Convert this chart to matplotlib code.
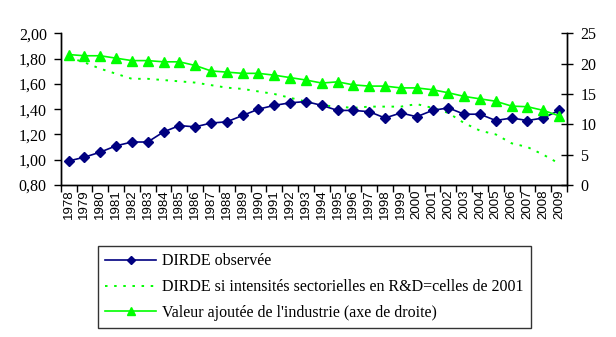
import matplotlib
matplotlib.use("Agg")
import matplotlib.pyplot as plt
from matplotlib import font_manager
import numpy as np

years = [str(y) for y in range(1978, 2010)]

dirde_observee = [0.99, 1.02, 1.06, 1.11, 1.14, 1.14, 1.22, 1.27, 1.26, 1.29,
                  1.30, 1.35, 1.40, 1.43, 1.45, 1.46, 1.43, 1.39, 1.39, 1.38,
                  1.33, 1.37, 1.34, 1.39, 1.41, 1.36, 1.36, 1.31, 1.33, 1.31,
                  1.33, 1.39]

dirde_2001 = [1.81, 1.77, 1.72, 1.68, 1.64, 1.64, 1.63, 1.62, 1.61, 1.59,
              1.57, 1.56, 1.54, 1.52, 1.49, 1.46, 1.43, 1.42, 1.41, 1.42,
              1.42, 1.42, 1.44, 1.41, 1.37, 1.29, 1.23, 1.20, 1.13, 1.10,
              1.04, 0.97]

valeur_ajoutee = [21.5, 21.3, 21.3, 20.9, 20.5, 20.5, 20.3, 20.3, 19.7, 18.8,
                  18.6, 18.4, 18.4, 18.1, 17.7, 17.3, 16.8, 17.0, 16.5, 16.3,
                  16.3, 16.0, 16.0, 15.7, 15.2, 14.6, 14.2, 13.8, 13.0, 12.9,
                  12.3, 11.4]

left_ticks = [0.80, 1.00, 1.20, 1.40, 1.60, 1.80, 2.00]
right_ticks = [0, 5, 10, 15, 20, 25]

labels = ["DIRDE observée",
          "DIRDE si intensités sectorielles en R&D=celles de 2001",
          "Valeur ajoutée de l'industrie (axe de droite)"]

serif = "Liberation Serif"
avail = {f.name for f in font_manager.fontManager.ttflist}
narrow = "Liberation Sans Narrow" if "Liberation Sans Narrow" in avail else "Liberation Sans"

W, H = 616, 337
fig = plt.figure(figsize=(W / 100, H / 100), dpi=100)
ax1 = fig.add_axes([60.7 / W, 1 - 185 / H, (567 - 60.7) / W, (185 - 33.3) / H])
ax2 = ax1.twinx()

x = np.arange(len(years))
navy = "#000080"
lime = "#00FF00"

l1, = ax1.plot(x, dirde_observee, color=navy, lw=1.2, marker="D", ms=5.5,
               markeredgecolor=navy, markerfacecolor=navy, zorder=3)
l2, = ax1.plot(x, dirde_2001, color=lime, lw=1.4, linestyle=(0, (1.3, 3.4)), zorder=2)
l3, = ax2.plot(x, valeur_ajoutee, color=lime, lw=1.2, marker="^", ms=7,
               markeredgecolor=lime, markerfacecolor=lime, zorder=3)

ax1.set_xlim(-0.5, len(years) - 0.5)
ax1.set_ylim(0.80, 2.00)
ax2.set_ylim(0, 25)

ax1.set_yticks(left_ticks)
ax1.set_yticklabels([f"{v:.2f}".replace(".", ",") for v in left_ticks],
                    fontfamily=serif, fontsize=11.5)
ax2.set_yticks(right_ticks)
ax2.set_yticklabels([str(v) for v in right_ticks], fontfamily=serif, fontsize=11.5)

ax1.set_xticks(np.arange(-0.5, len(years), 1.0))
ax1.set_xticklabels([])
ax1.set_xticks(x, minor=True)
ax1.set_xticklabels(years, minor=True, rotation=90, fontfamily=narrow, fontsize=9.5)
ax1.tick_params(axis="x", which="major", direction="out", length=5, width=1)
ax1.tick_params(axis="x", which="minor", length=0, pad=3)
ax1.tick_params(axis="y", direction="out", length=5, width=1, pad=5)
ax2.tick_params(axis="y", direction="inout", length=9, width=1, pad=5)

for a in (ax1, ax2):
    a.spines["top"].set_visible(False)
    for s in ("left", "right", "bottom"):
        a.spines[s].set_linewidth(1)
        a.spines[s].set_color("black")

leg = fig.legend([l1, l2, l3], labels, loc="upper left",
                 bbox_to_anchor=(98 / W, 1 - 246 / H),
                 prop={"family": serif, "size": 11.5},
                 frameon=True, fancybox=False, edgecolor="black",
                 handlelength=3.2, handletextpad=0.35, labelspacing=0.62,
                 borderpad=0.45, borderaxespad=0, markerscale=0.8)
leg.get_frame().set_linewidth(1)

fig.savefig("out.png", dpi=100)
